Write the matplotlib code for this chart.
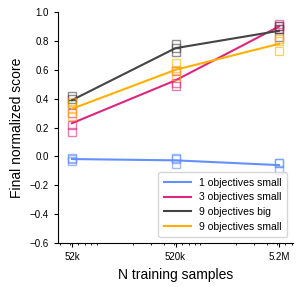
import numpy as np
import matplotlib.pyplot as plt

plt.rcParams['font.family'] = ['Liberation Sans', 'DejaVu Sans']

# training set sizes
n_samples = [52e3, 520e3, 5.2e6]
tick_labels = ['52k', '520k', '5.2M']

names = ['1 objectives small', '3 objectives small', '9 objectives big', '9 objectives small']
colors = ['#648FFF', '#DC267F', '#444444', '#FFB000']

# mean score per size (line)
mean_1s = [-0.018, -0.027, -0.06]
mean_3s = [0.23, 0.527, 0.90]
mean_9b = [0.39, 0.75, 0.87]
mean_9s = [0.33, 0.60, 0.78]

# individual seeds per size
seeds_1s = [[-0.009, -0.03, -0.015], [-0.009, -0.054, -0.018], [-0.043, -0.092, -0.045]]
seeds_3s = [[0.30, 0.22, 0.17], [0.59, 0.51, 0.485], [0.917, 0.90, 0.885]]
seeds_9b = [[0.416, 0.395, 0.36], [0.777, 0.72, 0.75], [0.88, 0.826, 0.90]]
seeds_9s = [[0.38, 0.33, 0.28], [0.65, 0.60, 0.555], [0.81, 0.73, 0.80]]

means = [mean_1s, mean_3s, mean_9b, mean_9s]
seeds = [seeds_1s, seeds_3s, seeds_9b, seeds_9s]

fig = plt.figure(figsize=(2.99, 2.87), dpi=100)
ax = fig.add_axes([0.194, 0.153, 0.786, 0.805])

for name, c, m, s in zip(names, colors, means, seeds):
    ax.plot(n_samples, m, color=c, lw=1.5, label=name)
    for x, vals in zip(n_samples, s):
        ax.plot([x] * len(vals), vals, ls='none', marker='s', ms=5.8,
                mfc='none', mec=c, mew=1.0, alpha=0.6)

ax.set_xscale('log')
ax.set_xlim(38100, 7.1e6)
ax.set_ylim(-0.6, 1.0)
ax.set_xticks(n_samples)
ax.set_xticklabels(tick_labels)
ax.set_yticks(np.arange(-0.6, 1.01, 0.2))
ax.tick_params(labelsize=7, length=3, width=0.8)
ax.tick_params(which='minor', length=1.5, width=0.6)
ax.spines['top'].set_visible(False)
ax.spines['right'].set_visible(False)

ax.set_xlabel('N training samples', fontsize=10, labelpad=4)
ax.set_ylabel('Final normalized score', fontsize=10)

ax.legend(loc='lower right', fontsize=7.5, handlelength=2.6, frameon=True,
          borderaxespad=0.6, labelspacing=0.45, borderpad=0.5)

fig.savefig('out.png', dpi=100)
